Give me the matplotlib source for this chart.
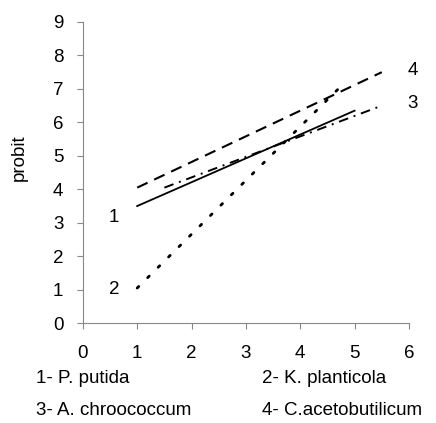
import matplotlib
matplotlib.use("Agg")
import matplotlib.pyplot as plt

plt.rcParams['font.family'] = ['Liberation Sans', 'DejaVu Sans']

# series: start and end points of each fitted line
x1 = [1, 5]
y1 = [3.5, 6.35]
x2 = [1, 4.7]
y2 = [1.05, 7.0]
x3 = [1.5, 5.5]
y3 = [4.05, 6.5]
x4 = [1, 5.5]
y4 = [4.05, 7.5]

xticks = [0, 1, 2, 3, 4, 5, 6]
yticks = [0, 1, 2, 3, 4, 5, 6, 7, 8, 9]
legend_items = ["1- P. putida", "2- K. planticola",
                "3- A. chroococcum", "4- C.acetobutilicum"]

fs = 13.5

fig = plt.figure(figsize=(4.36, 4.23), dpi=100)
ax = fig.add_axes([0.19, 0.236, 0.748, 0.712])

ax.plot(x1, y1, color='black', lw=1.3, ls='-')
ax.plot(x2, y2, color='black', lw=2.0, ls=(0, (0.8, 4.5)), dash_capstyle='round')
ax.plot(x3, y3, color='black', lw=1.4, ls=(0, (5, 3, 1, 3)))
ax.plot(x4, y4, color='black', lw=1.5, ls=(0, (5.5, 3.5)))

# line labels
ax.text(0.57, y1[0] - 0.35, "1", fontsize=fs, ha='center', va='center', clip_on=False)
ax.text(0.57, y2[0] - 0.05, "2", fontsize=fs, ha='center', va='center', clip_on=False)
ax.text(6.07, y3[1] + 0.05, "3", fontsize=fs, ha='center', va='center', clip_on=False)
ax.text(6.07, y4[1] + 0.05, "4", fontsize=fs, ha='center', va='center', clip_on=False)

ax.set_xlim(0, 6)
ax.set_ylim(0, 9)
ax.set_xticks(xticks)
ax.set_yticks(yticks)
ax.tick_params(labelsize=fs, length=4, color='#888888', width=0.8)
ax.tick_params(axis='x', pad=12)
ax.tick_params(axis='y', pad=10)
ax.spines['top'].set_visible(False)
ax.spines['right'].set_visible(False)
for s in ['left', 'bottom']:
    ax.spines[s].set_color('#888888')
    ax.spines[s].set_linewidth(0.8)
ax.set_ylabel("probit", fontsize=fs, labelpad=18)
ax.yaxis.set_label_coords(-0.17, 0.55)

# legend text below the axes
fig.text(36 / 436, 1 - 378 / 423, legend_items[0], fontsize=fs, va='center')
fig.text(262 / 436, 1 - 378 / 423, legend_items[1], fontsize=fs, va='center')
fig.text(36 / 436, 1 - 410 / 423, legend_items[2], fontsize=fs, va='center')
fig.text(262 / 436, 1 - 410 / 423, legend_items[3], fontsize=fs, va='center')

fig.savefig("out.png", dpi=100)
